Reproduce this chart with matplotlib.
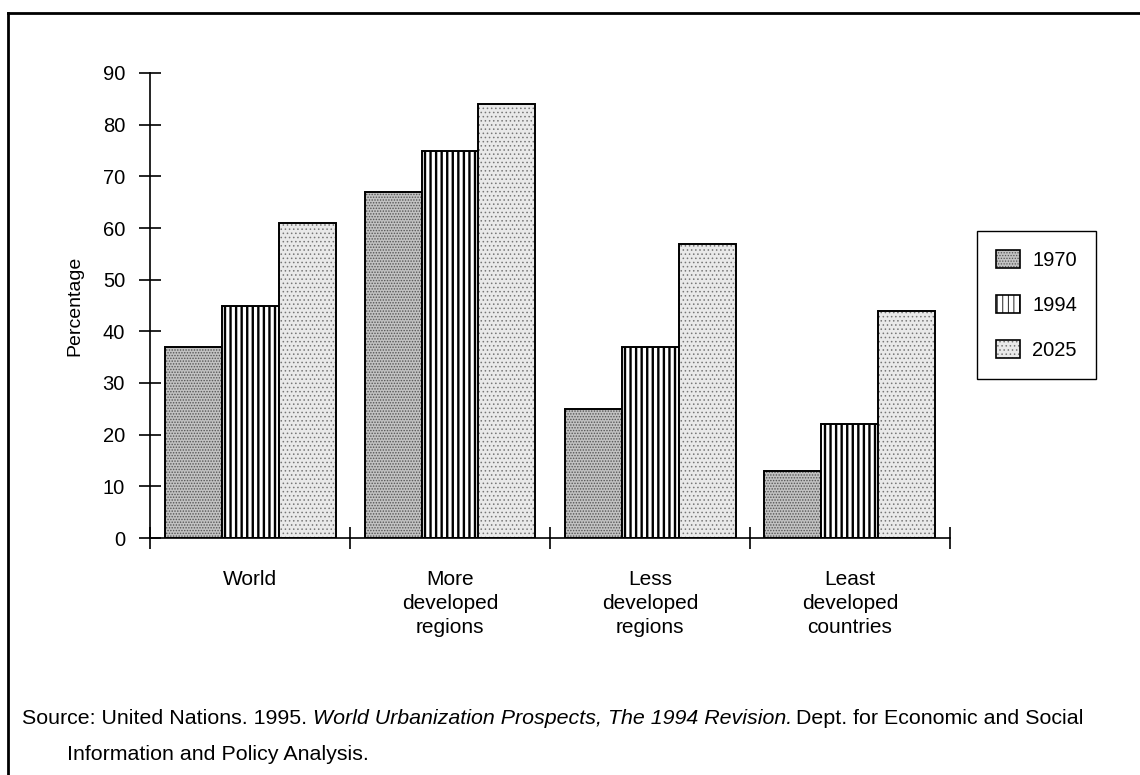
import numpy as np
import matplotlib
matplotlib.use("Agg")
import matplotlib.pyplot as plt
from matplotlib.patches import Patch
from matplotlib.lines import Line2D
from matplotlib.legend_handler import HandlerTuple

plt.rcParams['font.family'] = ['Liberation Sans', 'DejaVu Sans']

# urban population as share of total, by region
regions = ["World", "More\ndeveloped\nregions", "Less\ndeveloped\nregions",
           "Least\ndeveloped\ncountries"]
years = ["1970", "1994", "2025"]
pct_1970 = [37, 67, 25, 13]
pct_1994 = [45, 75, 37, 22]
pct_2025 = [61, 84, 57, 44]
yticks = list(range(0, 100, 10))

# fill style per year: face, hatch, hatch colour, hatch width
styles = [
    ("#c2c2c2", "......", "#555555", 0.7),
    ("white", "|||", "black", 1.7),
    ("#e9e9e9", "....", "#777777", 0.6),
]

fig = plt.figure(figsize=(11.4, 7.75), dpi=100)
ax = fig.add_axes([150/1140, 1 - 538/775, 800/1140, 465/775])

x = np.arange(len(regions))
w = 0.285
series = [pct_1970, pct_1994, pct_2025]
handles = []
for i, vals in enumerate(series):
    face, hatch, hcol, hlw = styles[i]
    plt.rcParams['hatch.linewidth'] = hlw
    pos = x + (i - 1) * w
    ax.bar(pos, vals, w, facecolor=face, edgecolor=hcol, hatch=hatch, linewidth=0)
    ax.bar(pos, vals, w, facecolor="none", edgecolor="black", linewidth=1.4)
    h1 = Patch(facecolor=face, edgecolor=hcol, hatch=hatch, linewidth=0)
    h2 = Patch(facecolor="none", edgecolor="black", linewidth=1.2)
    handles.append((h1, h2))

ax.set_xlim(-0.5, len(regions) - 0.5)
ax.set_ylim(0, 90)
ax.set_yticks(yticks)
ax.set_xticks(x)
ax.set_xticklabels(regions, fontsize=15, linespacing=1.32)
ax.set_xticks(np.arange(len(regions) + 1) - 0.5, minor=True)
ax.tick_params(axis='x', which='major', length=0, pad=23)
ax.tick_params(axis='x', which='minor', direction='inout', length=16, width=1.2)
ax.tick_params(axis='y', direction='inout', length=16, width=1.2, labelsize=14.5, pad=10)
for side in ("top", "right"):
    ax.spines[side].set_visible(False)
for side in ("left", "bottom"):
    ax.spines[side].set_linewidth(1.2)
ax.set_ylabel("Percentage", fontsize=14, labelpad=14)

leg = fig.legend(handles, years, handler_map={tuple: HandlerTuple(ndivide=1)},
                 loc="upper left", bbox_to_anchor=(977/1140, 1 - 231/775),
                 bbox_transform=fig.transFigure, fontsize=14.5, frameon=True,
                 fancybox=False, edgecolor="black", framealpha=1,
                 handlelength=1.2, handleheight=1.0, handletextpad=0.6,
                 labelspacing=1.25, borderpad=0.95, borderaxespad=0)
leg.get_frame().set_linewidth(1.0)

# outer frame (top and left edges)
fx, fy = 8/1140, 1 - 13/775
fig.add_artist(Line2D([fx, 1], [fy, fy], transform=fig.transFigure, color="black", lw=2))
fig.add_artist(Line2D([fx, fx], [0, fy], transform=fig.transFigure, color="black", lw=2))

fs = 15.4
fig.canvas.draw()
r = fig.canvas.get_renderer()

def put(xpx, s, style="normal", ypx=718):
    t = fig.text(xpx/1140, 1 - ypx/775, s, fontsize=fs, style=style, va="center")
    return t.get_window_extent(renderer=r).x1

xe = put(22, "Source: United Nations. 1995. ")
xe = put(xe, "World Urbanization Prospects, The 1994 Revision.", "italic")
put(xe + 4, "Dept. for Economic and Social")
put(67, "Information and Policy Analysis.", ypx=754)

fig.savefig("out.png", dpi=100)
